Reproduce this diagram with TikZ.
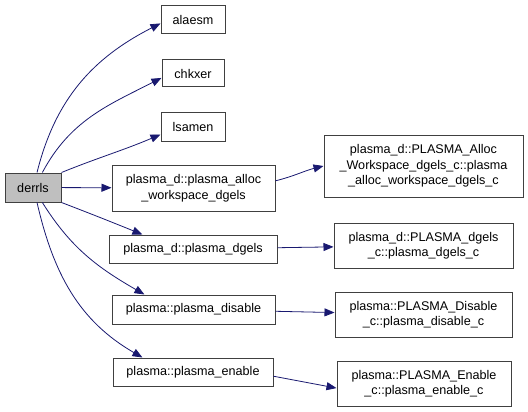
\documentclass[tikz,border=0pt]{standalone}
\usepackage{fontspec}
\setmainfont{Liberation Sans}
\usetikzlibrary{arrows.meta, positioning}
\definecolor{edgeblue}{RGB}{25,25,112}
\definecolor{boxgray}{RGB}{191,191,191}
\definecolor{boxline}{RGB}{64,64,64}

\begin{document}
\begin{tikzpicture}[
  x=1pt, y=1pt,
  fn/.style={draw=boxline, fill=white, line width=1pt, inner sep=2pt,
             align=center, font=\fontsize{12.6}{15.5}\selectfont},
  root/.style={fn, fill=boxgray},
  arr/.style={-{Triangle[length=10pt, width=8pt]}, edgeblue, line width=0.8pt},
]
  \useasboundingbox (0,0) rectangle (528,-412);

  % caller
  \node[root, minimum width=56, minimum height=29] (derrls) at (33,-187.5) {derrls};

  % called directly
  \node[fn, minimum width=64, minimum height=28] (alaesm) at (193,-20) {alaesm};
  \node[fn, minimum width=62, minimum height=27] (chkxer) at (193,-73.5) {chkxer};
  \node[fn, minimum width=64, minimum height=28] (lsamen) at (193,-127) {lsamen};
  \node[fn, minimum width=163, minimum height=46] (alloc) at (193.5,-188)
    {plasma\_d::plasma\_alloc\\\_workspace\_dgels};
  \node[fn, minimum width=168, minimum height=28] (dgels) at (193,-249)
    {plasma\_d::plasma\_dgels};
  \node[fn, minimum width=163, minimum height=29] (disable) at (193.5,-309.5)
    {plasma::plasma\_disable};
  \node[fn, minimum width=160, minimum height=28] (enable) at (193,-372)
    {plasma::plasma\_enable};

  % second level
  \node[fn, minimum width=199, minimum height=62] (allocc) at (423.5,-166)
    {plasma\_d::PLASMA\_Alloc\\\_Workspace\_dgels\_c::plasma\\\_alloc\_workspace\_dgels\_c};
  \node[fn, minimum width=179, minimum height=45] (dgelsc) at (423.5,-245.5)
    {plasma\_d::PLASMA\_dgels\\\_c::plasma\_dgels\_c};
  \node[fn, minimum width=177, minimum height=45] (disablec) at (423.5,-314.5)
    {plasma::PLASMA\_Disable\\\_c::plasma\_disable\_c};
  \node[fn, minimum width=174, minimum height=45] (enablec) at (424,-383.5)
    {plasma::PLASMA\_Enable\\\_c::plasma\_enable\_c};

  % calls from derrls
  \draw[arr] (derrls.75) to[out=76, in=207] (alaesm.186);
  \draw[arr] (derrls.58) to[out=62, in=207] (chkxer.188);
  \draw[arr] (derrls.north east) to[out=22, in=203] (lsamen.193);
  \draw[arr] (derrls) -- (alloc);
  \draw[arr] (derrls.south east) to[out=-21, in=158] (dgels.164);
  \draw[arr] (derrls.-58) to[out=-58, in=150] (disable.163);
  \draw[arr] (derrls.-75) to[out=-77, in=150] (enable.164);

  % next level
  \draw[arr] (alloc.5) to[out=14, in=194] (allocc.west);
  \foreach \a/\b in {dgels/dgelsc, disable/disablec} {
    \draw[arr] (\a) -- (\b);
  }
  \draw[arr] (enable.-3) -- (enablec.183);
\end{tikzpicture}
\end{document}
